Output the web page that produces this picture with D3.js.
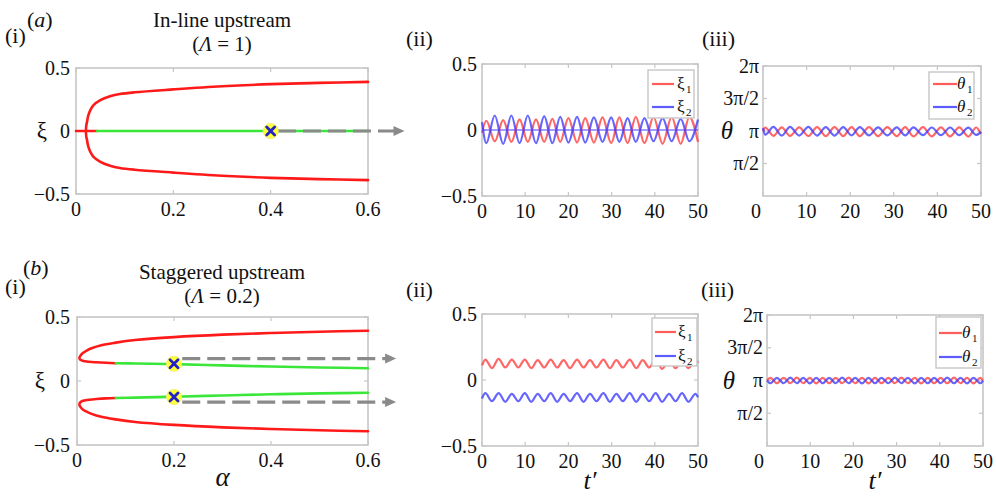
<!DOCTYPE html>
<html>
<head>
<meta charset="utf-8">
<script src="https://cdn.jsdelivr.net/npm/d3@7"></script>
</head>
<body style="margin:0">
<script>
const width = 996;
const height = 496;
const fontName = '"Liberation Serif"';

// ---- tick values ----
const alphaTicks = [0, 0.2, 0.4, 0.6];
const xiTicks = [-0.5, 0, 0.5];
const timeTicks = [0, 10, 20, 30, 40, 50];
const thetaTicks = [Math.PI / 2, Math.PI, 3 * Math.PI / 2, 2 * Math.PI];
const thetaTickLabels = ['π/2', 'π', '3π/2', '2π'];

// ---- (a)(i) in-line upstream bifurcation, [alpha, xi] ----
const redBranchA = [[0.6, -0.39], [0.5, -0.382], [0.4, -0.372], [0.3, -0.355], [0.2, -0.33], [0.12, -0.307],
  [0.09, -0.293], [0.07, -0.275], [0.05, -0.245], [0.036, -0.205], [0.03, -0.17], [0.025, -0.12],
  [0.023, -0.08], [0.021, -0.04], [0.0205, 0], [0.021, 0.04], [0.023, 0.08], [0.025, 0.12], [0.03, 0.17],
  [0.036, 0.205], [0.05, 0.245], [0.07, 0.275], [0.09, 0.293], [0.12, 0.307], [0.2, 0.33], [0.3, 0.355],
  [0.4, 0.372], [0.5, 0.382], [0.6, 0.39]];
const redTrivialA = [[0, 0], [0.043, 0]];
const greenTrivialA = [[0.043, 0], [0.6, 0]];
const markersA = [[0.4, 0]];
const arrowsA = [{ from: 0.415, to: 0.675, xi: 0 }];

// ---- (b)(i) staggered upstream bifurcation, [alpha, xi] ----
const upperRedB = [[0.6, 0.393], [0.5, 0.385], [0.4, 0.375], [0.3, 0.362], [0.2, 0.343], [0.12, 0.32],
  [0.08, 0.3], [0.05, 0.28], [0.03, 0.256], [0.02, 0.238], [0.012, 0.218], [0.007, 0.197], [0.005, 0.18],
  [0.007, 0.166], [0.012, 0.158], [0.02, 0.152], [0.04, 0.146], [0.06, 0.142], [0.08, 0.139]];
const upperGreenB = [[0.08, 0.139], [0.12, 0.137], [0.2, 0.132], [0.3, 0.122], [0.4, 0.113], [0.5, 0.106], [0.6, 0.1]];
const lowerRedB = [[0.6, -0.393], [0.5, -0.385], [0.4, -0.375], [0.3, -0.362], [0.2, -0.343], [0.12, -0.32],
  [0.08, -0.3], [0.05, -0.28], [0.03, -0.257], [0.02, -0.24], [0.012, -0.222], [0.007, -0.202], [0.005, -0.185],
  [0.007, -0.165], [0.012, -0.155], [0.02, -0.148], [0.04, -0.141], [0.06, -0.136], [0.08, -0.133]];
const lowerGreenB = [[0.08, -0.133], [0.12, -0.13], [0.2, -0.123], [0.3, -0.113], [0.4, -0.104], [0.5, -0.097], [0.6, -0.092]];
const markersB = [[0.2, 0.135], [0.2, -0.125]];
const arrowsB = [{ from: 0.217, to: 0.658, xi: 0.175 }, { from: 0.217, to: 0.658, xi: -0.165 }];

// ---- (a)(ii) xi time series: extrema times and values ----
const timeA = [0, 1.0, 2.95, 4.9, 6.8, 8.7, 10.6, 12.5, 14.4, 16.3, 18.1, 20.0, 22.0, 23.9, 25.9, 27.9,
  29.9, 31.8, 33.7, 35.6, 37.6, 39.7, 41.8, 43.9, 46.0, 48.0, 50];
const xi1A = [-0.02, 0.07, -0.085, 0.075, -0.09, 0.08, -0.09, 0.08, -0.09, 0.085, -0.09, 0.09, -0.095, 0.09,
  -0.095, 0.095, -0.1, 0.095, -0.1, 0.1, -0.1, 0.1, -0.105, 0.1, -0.105, 0.1, -0.09];
const xi2A = [0.06, -0.1, 0.11, -0.105, 0.11, -0.1, 0.11, -0.1, 0.105, -0.1, 0.1, -0.095, 0.1, -0.095,
  0.095, -0.09, 0.095, -0.09, 0.09, -0.09, 0.09, -0.085, 0.09, -0.085, 0.085, -0.085, 0.08];

// ---- (a)(iii) theta time series (rad) ----
const timeAth = [0, 0.5, 2.4, 4.3, 6.2, 8.3, 10.4, 12.4, 14.4, 16.4, 18.4, 20.3, 22.2, 24.3, 26.4, 28.5,
  30.7, 32.6, 34.5, 36.7, 38.7, 40.8, 42.9, 45.0, 47.1, 48.9, 50];
const theta1A = [3.14, 3.31, 2.91, 3.32, 2.91, 3.32, 2.9, 3.33, 2.9, 3.33, 2.9, 3.33, 2.89, 3.33, 2.89,
  3.33, 2.89, 3.33, 2.88, 3.33, 2.88, 3.32, 2.88, 3.32, 2.87, 3.31, 3.0];
const theta2A = [3.28, 2.96, 3.34, 2.92, 3.34, 2.92, 3.34, 2.92, 3.33, 2.92, 3.33, 2.93, 3.33, 2.93, 3.32,
  2.93, 3.32, 2.93, 3.32, 2.94, 3.31, 2.94, 3.31, 2.94, 3.30, 2.95, 3.1];

// ---- (b)(ii), (b)(iii) time series ----
const timeB = [0, 0.77, 2.3, 3.85, 5.4, 6.9, 8.4, 9.9, 11.4, 12.9, 14.4, 15.9, 17.4, 18.9, 20.4, 22.0, 23.5,
  25.0, 26.5, 28.1, 29.6, 31.1, 32.6, 34.2, 35.7, 37.2, 38.7, 40.2, 41.7, 43.3, 44.8, 46.3, 47.8, 49.4, 50];
const xi1B = [0.11, 0.155, 0.09, 0.16, 0.095, 0.155, 0.095, 0.155, 0.09, 0.15, 0.095, 0.155, 0.095, 0.15,
  0.09, 0.155, 0.095, 0.15, 0.095, 0.155, 0.09, 0.15, 0.095, 0.155, 0.09, 0.15, 0.095, 0.155, 0.085, 0.15,
  0.09, 0.15, 0.09, 0.155, 0.13];
const xi2B = [-0.14, -0.1, -0.16, -0.1, -0.165, -0.105, -0.16, -0.1, -0.165, -0.105, -0.16, -0.1, -0.165,
  -0.105, -0.16, -0.1, -0.165, -0.105, -0.16, -0.1, -0.165, -0.105, -0.16, -0.1, -0.165, -0.105, -0.16,
  -0.1, -0.165, -0.105, -0.16, -0.1, -0.165, -0.105, -0.13];
const theta1B = [3.14, 3.27, 3.01, 3.27, 3.01, 3.28, 3.01, 3.27, 3.0, 3.27, 3.01, 3.27, 3.01, 3.28, 3.01,
  3.27, 3.0, 3.27, 3.01, 3.27, 3.01, 3.28, 3.01, 3.27, 3.0, 3.27, 3.01, 3.27, 3.01, 3.28, 3.01, 3.27, 3.0,
  3.27, 3.14];
const theta2B = [3.14, 3.01, 3.27, 3.01, 3.28, 3.01, 3.27, 3.0, 3.27, 3.01, 3.27, 3.01, 3.28, 3.01, 3.27,
  3.0, 3.27, 3.01, 3.27, 3.01, 3.28, 3.01, 3.27, 3.0, 3.27, 3.01, 3.27, 3.01, 3.28, 3.01, 3.27, 3.0, 3.27,
  3.01, 3.14];

const red = '#ff1a1a';
const green = '#3be63b';
const lightRed = '#ff4040';
const lightBlue = '#4040ff';
const grey = '#8a8a8a';
const frameGrey = '#c6c6c6';

const svg = d3.select('body')
  .append('svg')
    .attr('width', width)
    .attr('height', height)
    .style('font-family', fontName, 'important');

const serifText = (sel) => sel.style('font-family', fontName, 'important');

const makePanel = (box, xDomain, yDomain) => {
  const x = d3.scaleLinear().domain(xDomain).range([box.x0, box.x1]);
  const y = d3.scaleLinear().domain(yDomain).range([box.y1, box.y0]);
  const g = svg.append('g');
  return { box, x, y, g };
};

const fmtDec = (d) => d === 0 ? '0' : d3.format('.1f')(d);
const fmtInt = (d) => String(d);
const fmtTheta = (d) => thetaTickLabels[thetaTicks.indexOf(d)];

const tickLines = (g, ticks, pos, horizontal, edge, dir) => {
  g.selectAll(null)
    .data(ticks)
    .join('line')
      .attr('x1', (d) => horizontal ? pos(d) : edge)
      .attr('x2', (d) => horizontal ? pos(d) : edge + dir * 4)
      .attr('y1', (d) => horizontal ? edge : pos(d))
      .attr('y2', (d) => horizontal ? edge + dir * 4 : pos(d))
      .attr('stroke', frameGrey)
      .attr('stroke-width', 1.2);
};

const drawAxes = (p, xTicks, yTicks, xFmt, yFmt, pad, zeroShift = 0) => {
  const { g, x, y, box } = p;

  g.append('rect')
    .attr('x', box.x0)
    .attr('y', box.y0)
    .attr('width', box.x1 - box.x0)
    .attr('height', box.y1 - box.y0)
    .attr('fill', 'none')
    .attr('stroke', frameGrey)
    .attr('stroke-width', 1.6);

  tickLines(g, xTicks, x, true, box.y1, -1);
  tickLines(g, xTicks, x, true, box.y0, 1);
  tickLines(g, yTicks, y, false, box.x0, 1);
  tickLines(g, yTicks, y, false, box.x1, -1);

  g.selectAll(null)
    .data(xTicks)
    .join('text')
      .attr('x', (d) => x(d) + (d === 0 ? zeroShift : 0))
      .attr('y', box.y1 + 22)
      .attr('text-anchor', 'middle')
      .attr('font-size', 20)
      .attr('fill', '#111')
      .call(serifText)
      .text(xFmt);

  g.selectAll(null)
    .data(yTicks)
    .join('text')
      .attr('x', box.x0 - pad)
      .attr('y', (d) => y(d) + 6.5)
      .attr('text-anchor', 'end')
      .attr('font-size', 20)
      .attr('fill', '#111')
      .call(serifText)
      .text(yFmt);
};

const drawCurve = (p, points, color, curve) => {
  p.g.append('path')
    .datum(points)
    .attr('fill', 'none')
    .attr('stroke', color)
    .attr('stroke-width', 2.6)
    .attr('stroke-linecap', 'round')
    .attr('d', d3.line().x((d) => p.x(d[0])).y((d) => p.y(d[1])).curve(curve));
};

const drawSeries = (p, times, values, color) => {
  p.g.append('path')
    .datum(d3.zip(times, values))
    .attr('fill', 'none')
    .attr('stroke', color)
    .attr('stroke-opacity', 0.8)
    .attr('stroke-width', 2.2)
    .attr('d', d3.line().x((d) => p.x(d[0])).y((d) => p.y(d[1])).curve(d3.curveMonotoneX));
};

const drawArrows = (p, arrows) => {
  arrows.forEach((a) => {
    const x0 = p.x(a.from);
    const x1 = p.x(a.to);
    const yy = p.y(a.xi);
    p.g.append('line')
      .attr('x1', x0).attr('x2', x1 - 9)
      .attr('y1', yy).attr('y2', yy)
      .attr('stroke', grey)
      .attr('stroke-width', 3.2)
      .attr('stroke-dasharray', '18 7');
    p.g.append('path')
      .attr('d', `M${x1},${yy} L${x1 - 11},${yy - 5} L${x1 - 11},${yy + 5} Z`)
      .attr('fill', grey);
  });
};

const drawMarkers = (p, markers) => {
  markers.forEach((m) => {
    const cx = p.x(m[0]);
    const cy = p.y(m[1]);
    p.g.append('circle')
      .attr('cx', cx).attr('cy', cy).attr('r', 7.5)
      .attr('fill', '#ffff3a')
      .attr('stroke', '#f4f070')
      .attr('stroke-width', 1);
    p.g.append('path')
      .attr('d', `M${cx - 4},${cy - 4} L${cx + 4},${cy + 4} M${cx - 4},${cy + 4} L${cx + 4},${cy - 4}`)
      .attr('stroke', '#2222c8')
      .attr('stroke-width', 2.8)
      .attr('stroke-linecap', 'round');
  });
};

const drawLegend = (r, entries, italic) => {
  const g = svg.append('g');
  g.append('rect')
    .attr('x', r.x).attr('y', r.y).attr('width', r.w).attr('height', r.h)
    .attr('fill', '#fff')
    .attr('stroke', frameGrey)
    .attr('stroke-width', 1.4);
  entries.forEach((e) => {
    g.append('line')
      .attr('x1', r.lx0).attr('x2', r.lx1)
      .attr('y1', e.y).attr('y2', e.y)
      .attr('stroke', e.color)
      .attr('stroke-opacity', 0.85)
      .attr('stroke-width', 2.2);
    g.append('text')
      .attr('x', r.tx)
      .attr('y', e.y + 5)
      .attr('font-size', 17)
      .attr('font-style', italic ? 'italic' : null)
      .attr('fill', '#111')
      .call(serifText)
      .text(e.name);
    g.append('text')
      .attr('x', r.tx + (italic ? 10 : 9))
      .attr('y', e.y + 9)
      .attr('font-size', 11)
      .attr('fill', '#111')
      .call(serifText)
      .text(e.sub);
  });
};

// parts: [[string, italic], ...]
const label = (x, y, parts, size, anchor = 'start') => {
  const t = svg.append('text')
    .attr('x', x)
    .attr('y', y)
    .attr('font-size', size)
    .attr('text-anchor', anchor)
    .attr('fill', '#111')
    .call(serifText);
  parts.forEach((part) => {
    t.append('tspan')
      .attr('font-style', part[1] ? 'italic' : null)
      .call(serifText)
      .text(part[0]);
  });
  return t;
};

const catmull = d3.curveCatmullRom.alpha(0.5);

// ---------------- row (a) ----------------
const pAi = makePanel({ x0: 76, x1: 368, y0: 68, y1: 194 }, [0, 0.6], [-0.5, 0.5]);
drawAxes(pAi, alphaTicks, xiTicks, fmtDec, fmtDec, 6);
drawCurve(pAi, redBranchA, red, catmull);
drawCurve(pAi, redTrivialA, red, d3.curveLinear);
drawCurve(pAi, greenTrivialA, green, d3.curveLinear);
drawArrows(pAi, arrowsA);
drawMarkers(pAi, markersA);

const pAii = makePanel({ x0: 482, x1: 698, y0: 64, y1: 196 }, [0, 50], [-0.5, 0.5]);
drawAxes(pAii, timeTicks, xiTicks, fmtInt, fmtDec, 5);
pAii.g.append('line')
  .attr('x1', pAii.x(0)).attr('x2', pAii.x(50))
  .attr('y1', pAii.y(0)).attr('y2', pAii.y(0))
  .attr('stroke', lightBlue)
  .attr('stroke-width', 1.2);
drawSeries(pAii, timeA, xi1A, lightRed);
drawSeries(pAii, timeA, xi2A, lightBlue);
drawLegend({ x: 648, y: 70, w: 46, h: 48, lx0: 652, lx1: 674, tx: 677 },
  [{ name: 'ξ', sub: '1', color: lightRed, y: 84 }, { name: 'ξ', sub: '2', color: lightBlue, y: 107 }], false);

const pAiii = makePanel({ x0: 763, x1: 981, y0: 66, y1: 196 }, [0, 50], [0, 2 * Math.PI]);
drawAxes(pAiii, timeTicks, thetaTicks, fmtInt, fmtTheta, 4, -7);
drawSeries(pAiii, timeAth, theta1A, lightRed);
drawSeries(pAiii, timeAth, theta2A, lightBlue);
drawLegend({ x: 929, y: 72, w: 45, h: 47, lx0: 933, lx1: 957, tx: 957 },
  [{ name: 'θ', sub: '1', color: lightRed, y: 84 }, { name: 'θ', sub: '2', color: lightBlue, y: 107 }], true);

// ---------------- row (b) ----------------
const pBi = makePanel({ x0: 77, x1: 368, y0: 317, y1: 445 }, [0, 0.6], [-0.5, 0.5]);
drawAxes(pBi, alphaTicks, xiTicks, fmtDec, fmtDec, 7);
drawCurve(pBi, upperRedB, red, catmull);
drawCurve(pBi, upperGreenB, green, catmull);
drawCurve(pBi, lowerRedB, red, catmull);
drawCurve(pBi, lowerGreenB, green, catmull);
drawArrows(pBi, arrowsB);
drawMarkers(pBi, markersB);

const pBii = makePanel({ x0: 482, x1: 698, y0: 314, y1: 446 }, [0, 50], [-0.5, 0.5]);
drawAxes(pBii, timeTicks, xiTicks, fmtInt, fmtDec, 5);
drawSeries(pBii, timeB, xi1B, lightRed);
drawSeries(pBii, timeB, xi2B, lightBlue);
drawLegend({ x: 652, y: 318, w: 45, h: 48, lx0: 655, lx1: 676, tx: 678 },
  [{ name: 'ξ', sub: '1', color: lightRed, y: 332 }, { name: 'ξ', sub: '2', color: lightBlue, y: 356 }], false);

const pBiii = makePanel({ x0: 767, x1: 983, y0: 315, y1: 446 }, [0, 50], [0, 2 * Math.PI]);
drawAxes(pBiii, timeTicks, thetaTicks, fmtInt, fmtTheta, 4, -8);
drawSeries(pBiii, timeB, theta1B, lightRed);
drawSeries(pBiii, timeB, theta2B, lightBlue);
drawLegend({ x: 936, y: 317, w: 45, h: 51, lx0: 939, lx1: 962, tx: 962 },
  [{ name: 'θ', sub: '1', color: lightRed, y: 333 }, { name: 'θ', sub: '2', color: lightBlue, y: 357 }], true);

// ---------------- labels ----------------
label(27, 27, [['(', false], ['a', true], [')', false]], 22);
label(5, 43, [['(i)', false]], 22);
label(406, 46, [['(ii)', false]], 22);
label(702, 46, [['(iii)', false]], 22);
label(222, 27, [['In-line upstream', false]], 21, 'middle');
label(222, 51, [['(', false], ['Λ', true], [' = 1)', false]], 21, 'middle');

label(23, 275, [['(', false], ['b', true], [')', false]], 22);
label(5, 294, [['(i)', false]], 22);
label(406, 297, [['(ii)', false]], 22);
label(701, 297, [['(iii)', false]], 22);
label(222, 279, [['Staggered upstream', false]], 21, 'middle');
label(222, 303, [['(', false], ['Λ', true], [' = 0.2)', false]], 21, 'middle');

// axis titles
label(42, pAi.y(0) + 7, [['ξ', false]], 23, 'middle');
label(40, pBi.y(0) + 7, [['ξ', false]], 23, 'middle');
label(727, pAiii.y(Math.PI) + 8, [['θ', true]], 25, 'middle');
label(729, pBiii.y(Math.PI) + 8, [['θ', true]], 25, 'middle');
label(pBi.x(0.3), 486, [['α', true]], 27, 'middle');
label(pBii.x(25), 489, [['t′', true]], 26, 'middle');
label(pBiii.x(25), 489, [['t′', true]], 26, 'middle');
</script>
</body>
</html>
